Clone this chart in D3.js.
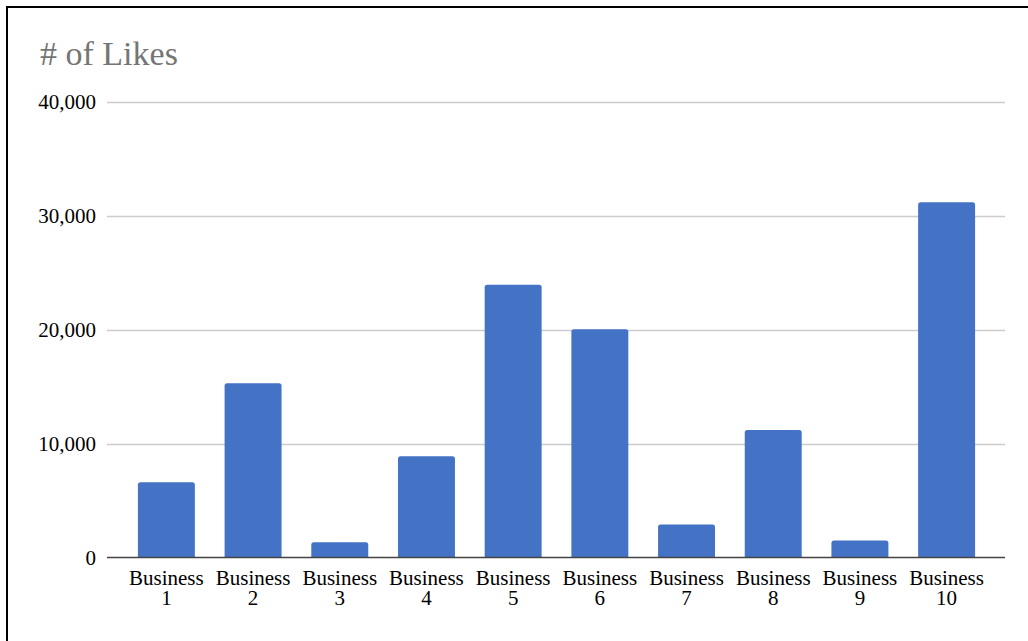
<!DOCTYPE html>
<html>
<head>
<meta charset="utf-8">
<script src="https://cdn.jsdelivr.net/npm/d3@7"></script>
<style>
  html, body { margin: 0; padding: 0; background: #fff; }
  svg { display: block; }
</style>
</head>
<body>
<svg id="chart" width="1028" height="641"></svg>
<script>
const categories = ["Business 1","Business 2","Business 3","Business 4","Business 5","Business 6","Business 7","Business 8","Business 9","Business 10"];
const likes = [6600, 15300, 1350, 8900, 23950, 20050, 2900, 11200, 1500, 31200];
const yTicks = [0, 10000, 20000, 30000, 40000];
const title = "# of Likes";

const svg = d3.select("#chart");
const W = 1028, H = 641;
const plot = { left: 107, right: 1005, top: 102, bottom: 557.5 };
const fontFamily = "Liberation Serif, Times New Roman, serif";

// border
svg.append("rect")
  .attr("x", 7).attr("y", 7)
  .attr("width", W + 10).attr("height", H + 10)
  .attr("fill", "#fff").attr("stroke", "#000").attr("stroke-width", 2);

const x = d3.scaleBand().domain(categories)
  .range([plot.left + 1, plot.right])
  .paddingInner(0.343).paddingOuter(0.345);
const y = d3.scaleLinear().domain([0, 40000]).range([plot.bottom, plot.top]);

// title
svg.append("text")
  .attr("x", 40).attr("y", 65)
  .attr("font-family", fontFamily).attr("font-size", 34)
  .attr("fill", "#757575").text(title);

// gridlines
svg.append("g").selectAll("line").data(yTicks.filter(d => d > 0)).join("line")
  .attr("x1", plot.left).attr("x2", plot.right)
  .attr("y1", d => Math.round(y(d)) + 0.5).attr("y2", d => Math.round(y(d)) + 0.5)
  .attr("stroke", "#cccccc").attr("stroke-width", 1.3);

// y tick labels
const fmt = d3.format(",");
svg.append("g").selectAll("text").data(yTicks).join("text")
  .attr("x", 96).attr("y", d => y(d) + 7)
  .attr("text-anchor", "end")
  .attr("font-family", fontFamily).attr("font-size", 21)
  .attr("fill", "#000").text(d => fmt(d));

// bars with slightly rounded top corners
const r = 2.5;
function barPath(x0, w, yTop, yBot) {
  return `M${x0},${yBot}V${yTop + r}Q${x0},${yTop} ${x0 + r},${yTop}H${x0 + w - r}Q${x0 + w},${yTop} ${x0 + w},${yTop + r}V${yBot}Z`;
}
svg.append("g").selectAll("path").data(categories).join("path")
  .attr("d", (c, i) => barPath(x(c), x.bandwidth(), y(likes[i]), y(0)))
  .attr("fill", "#4472C4");

// baseline
svg.append("line")
  .attr("x1", plot.left).attr("x2", plot.right)
  .attr("y1", plot.bottom).attr("y2", plot.bottom)
  .attr("stroke", "#444").attr("stroke-width", 1.6);

// x labels
const xl = svg.append("g").selectAll("text").data(categories).join("text")
  .attr("text-anchor", "middle")
  .attr("font-family", fontFamily).attr("font-size", 21)
  .attr("fill", "#000");
xl.each(function(c) {
  const parts = c.split(" ");
  const cx = x(c) + x.bandwidth() / 2;
  const t = d3.select(this);
  t.append("tspan").attr("x", cx).attr("y", 585).text(parts[0]);
  t.append("tspan").attr("x", cx).attr("y", 605).text(parts[1]);
});
</script>
</body>
</html>
